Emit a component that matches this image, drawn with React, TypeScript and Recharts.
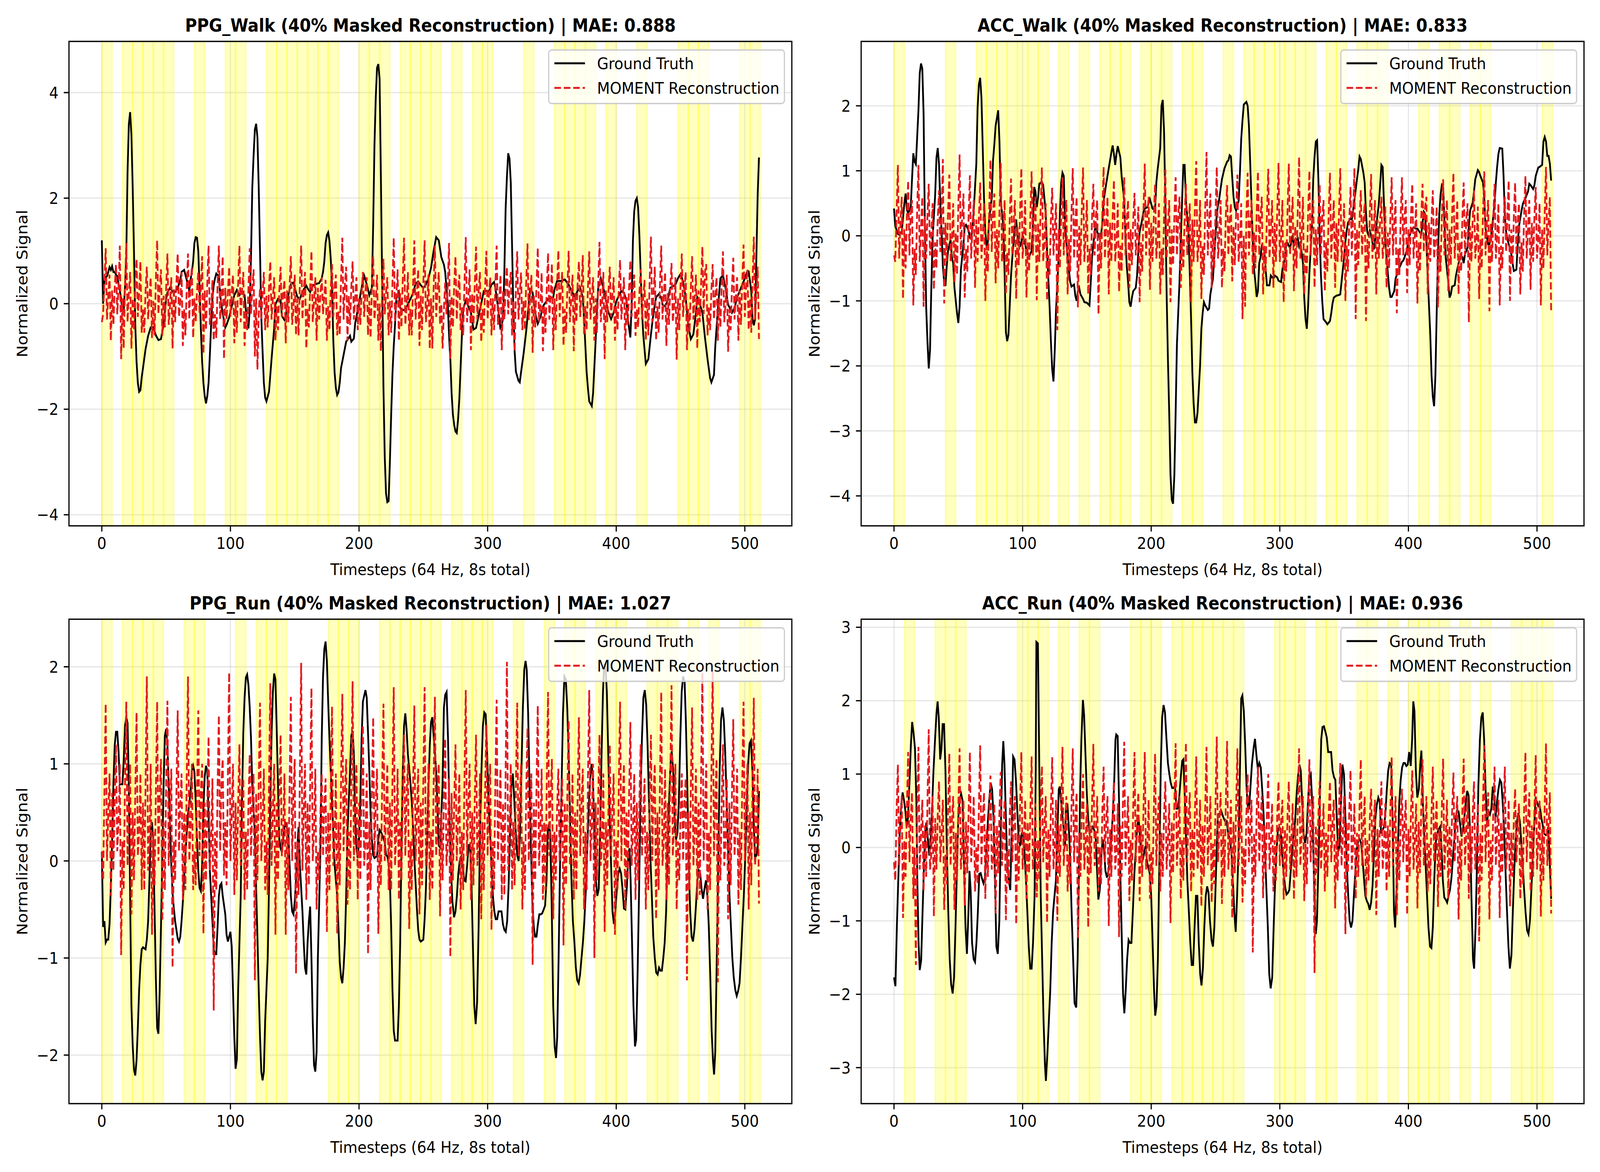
import React from "react";
import { CartesianGrid, Line, LineChart, ReferenceArea, XAxis, YAxis } from "recharts";

const FIG_W = 4500;
const FIG_H = 3000;
const FONT = "DejaVu Sans";
const FS = 41.7;
const TITLE_FS = 45.8;
const PLOT_W = 2033;
const PLOT_H = 1240;
const X_DOMAIN: [number, number] = [-25.55, 536.55];
const X_TICKS = [0, 100, 200, 300, 400, 500];
const PATCH_LEN = 8;
// reconstruction values are listed for every timestep 0..511
const RECON_T = Array.from({ length: 512 }, (_, i) => i);

// ---------- PPG_Walk ----------
const ppgWalkTruth: [number, number][] = [
  [0,1.2],[1,0.0],[2,0.43],[3,0.5],[4,0.52],[5,0.6],[6,0.69],[7,0.64],[8,0.71],[9,0.6],[10,0.6],[11,0.55],[12,0.52],[13,0.37],[14,0.25],[15,0.1],[16,-0.13],[17,-0.12],[18,0.3],[19,0.9],[20,2.5],[21,3.4],[22,3.63],[23,3.2],[24,2.2],[25,1.0],[26,-0.4],[27,-1.1],[28,-1.5],[29,-1.67],[30,-1.64],[31,-1.4],[32,-1.22],[34,-0.86],[36,-0.61],[38,-0.45],[40,-0.45],[42,-0.6],[44,-0.69],[46,-0.67],[48,-0.4],[50,0.09],[51,0.21],[53,0.3],[55,0.23],[57,0.22],[59,0.3],[61,0.45],[62,0.6],[64,0.64],[66,0.45],[68,0.25],[69,0.46],[70,0.6],[71,0.8],[72,1.15],[73,1.26],[74,1.25],[75,1.0],[76,0.3],[77,-0.47],[78,-1.1],[79,-1.5],[80,-1.75],[81,-1.89],[82,-1.75],[83,-1.5],[84,-0.97],[85,-0.4],[86,0.09],[87,0.35],[88,0.48],[89,0.57],[91,0.52],[92,0.16],[94,-0.19],[96,-0.45],[97,-0.4],[99,-0.26],[101,-0.05],[103,0.16],[105,0.26],[107,0.16],[109,0.23],[111,0.16],[112,-0.12],[113,-0.3],[114,-0.47],[115,-0.12],[116,0.9],[117,2.2],[118,2.8],[119,3.3],[120,3.41],[121,3.15],[122,2.2],[123,1.0],[124,-0.26],[125,-0.9],[126,-1.5],[127,-1.78],[128,-1.85],[130,-1.67],[132,-1.04],[134,-0.47],[135,-0.01],[137,0.09],[139,0.06],[140,-0.23],[142,-0.31],[143,-0.23],[145,0.16],[147,0.37],[149,0.4],[150,0.3],[152,0.13],[154,0.09],[155,0.16],[157,0.27],[159,0.34],[160,0.29],[162,0.22],[164,0.34],[166,0.37],[169,0.39],[171,0.48],[172,0.6],[173,0.8],[174,1.15],[175,1.3],[176,1.35],[177,1.19],[178,0.85],[179,0.3],[180,-0.7],[181,-1.3],[182,-1.6],[183,-1.73],[184,-1.68],[185,-1.5],[186,-1.22],[188,-0.97],[190,-0.72],[192,-0.65],[193,-0.61],[194,-0.72],[196,-0.66],[197,-0.37],[199,-0.12],[201,0.16],[203,0.43],[204,0.53],[206,0.37],[208,0.16],[210,0.3],[211,1.5],[212,3.0],[213,3.9],[214,4.47],[215,4.54],[216,4.26],[217,2.4],[218,0.4],[219,-1.6],[220,-2.9],[221,-3.6],[222,-3.76],[223,-3.74],[224,-3.0],[225,-2.1],[226,-1.32],[227,-0.8],[228,-0.4],[229,0.09],[231,0.21],[232,-0.08],[234,-0.12],[236,-0.12],[238,-0.01],[240,0.09],[242,0.2],[244,0.38],[246,0.42],[248,0.35],[250,0.3],[252,0.36],[254,0.48],[256,0.68],[258,1.0],[260,1.26],[262,1.2],[264,0.88],[266,0.74],[267,0.6],[268,0.3],[269,0.0],[270,-0.6],[271,-1.05],[272,-1.7],[273,-2.1],[274,-2.3],[275,-2.42],[276,-2.45],[277,-2.2],[278,-1.8],[279,-1.2],[280,-0.6],[281,-0.11],[283,0.06],[285,-0.05],[287,-0.17],[289,-0.49],[291,-0.46],[293,-0.23],[295,0.0],[297,0.24],[299,0.24],[301,0.23],[303,0.36],[305,0.41],[306,0.3],[308,-0.05],[310,-0.49],[312,-0.29],[313,0.6],[314,1.8],[315,2.4],[316,2.85],[317,2.75],[318,2.3],[319,1.1],[320,-0.1],[321,-0.9],[322,-1.29],[324,-1.46],[325,-1.49],[326,-1.3],[328,-0.94],[330,-0.52],[332,0.0],[333,0.27],[335,0.21],[337,-0.17],[339,-0.38],[341,-0.26],[343,-0.05],[345,0.02],[347,0.09],[349,0.11],[351,0.12],[352,0.27],[354,0.43],[357,0.43],[360,0.46],[363,0.36],[366,0.21],[368,0.12],[370,0.25],[372,0.3],[374,0.12],[375,-0.3],[376,-0.8],[377,-1.3],[378,-1.6],[379,-1.85],[381,-1.94],[382,-1.7],[383,-1.2],[384,-0.7],[385,-0.1],[386,0.3],[388,0.48],[390,0.3],[392,0.06],[394,-0.17],[396,-0.29],[398,-0.17],[400,0.04],[402,0.15],[404,0.24],[406,0.21],[408,0.06],[409,-0.29],[411,-0.64],[412,0.0],[413,1.2],[414,1.75],[415,1.95],[416,2.0],[417,1.83],[418,1.3],[419,0.59],[420,-0.1],[421,-0.58],[423,-1.14],[425,-1.05],[427,-0.58],[429,-0.17],[431,0.12],[433,0.18],[435,0.12],[436,-0.02],[438,-0.05],[440,0.06],[442,0.3],[444,0.33],[446,0.36],[448,0.48],[450,0.56],[452,0.42],[454,0.12],[456,-0.41],[458,-0.67],[460,-0.58],[462,-0.17],[463,0.12],[465,0.0],[467,-0.17],[469,-0.64],[471,-1.05],[473,-1.41],[474,-1.49],[476,-1.35],[477,-0.82],[479,-0.11],[481,0.48],[483,0.54],[485,0.3],[487,-0.02],[489,-0.11],[490,-0.17],[492,-0.08],[494,0.12],[496,0.24],[498,0.36],[500,0.48],[502,0.62],[503,0.61],[505,0.24],[506,-0.29],[507,-0.41],[508,-0.29],[509,0.9],[510,2.06],[511,2.77],
];
const ppgWalkRecon = [
  -0.35, -0.2, 0.4, 1.05, -0.3, 0.15, 0.55, -0.7,
  0.25, -0.4, 0.3, 0.75, -0.2, 0.3, 1.1, -1.05,
  0.1, -0.85, 0.35, 1.15, -0.35, 0.2, 0.6, -0.85,
  0.1, -0.5, 0.3, 0.85, -0.25, 0.2, 0.8, -0.55,
  -0.1, -0.55, 0.25, 0.7, -0.3, 0.15, 0.5, -0.65,
  0.05, -0.6, 0.45, 1.2, -0.2, 0.3, 0.65, -0.6,
  0.15, -0.45, 0.3, 0.95, -0.4, -0.05, 0.5, -0.85,
  0.3, -0.35, 0.4, 0.95, -0.25, 0.05, 0.6, -0.8,
  -0.1, -0.6, 0.3, 0.95, -0.3, 0.35, 0.7, -0.65,
  0.1, -0.35, 0.25, 0.6, -0.2, 0.3, 0.9, -0.95,
  0.25, -0.5, 0.4, 1.1, -0.4, -0.1, 0.45, -0.7,
  -0.2, -0.65, 0.35, 1.1, -0.3, 0.2, 0.9, -1.05,
  0.3, -0.3, 0.2, 0.7, -0.25, 0.2, 0.55, -0.75,
  0.05, -0.55, 0.4, 1.1, -0.35, 0.25, 0.6, -0.8,
  -0.15, -0.5, 0.3, 1.05, -0.2, 0.3, 0.65, -1.0,
  0.1, -1.25, -0.2, 0.3, -0.3, 0.2, 0.6, -0.5,
  0.15, -0.45, 0.3, 0.8, -0.3, 0.1, 0.5, -0.7,
  -0.05, -0.5, 0.25, 0.7, -0.25, 0.2, 0.45, -0.75,
  0.25, -0.35, 0.35, 0.9, -0.4, -0.1, 0.55, -0.6,
  0.1, -0.6, 0.4, 1.1, -0.3, 0.25, 0.6, -0.85,
  -0.1, -0.45, 0.3, 1.0, -0.35, 0.05, 0.5, -0.7,
  0.3, -0.3, 0.2, 0.5, -0.2, 0.15, 0.45, -0.7,
  -0.05, -0.5, 0.3, 0.75, -0.25, 0.3, 0.55, -0.6,
  -0.15, -0.6, 0.45, 1.25, -0.3, 0.35, 0.7, -0.7,
  0.15, -0.4, 0.3, 0.8, -0.3, 0.1, 0.5, -0.5,
  0.1, -0.4, 0.2, 0.6, -0.25, 0.25, 0.5, -0.6,
  0.05, -0.65, 0.3, 0.9, -0.3, 0.05, 0.55, -0.7,
  0.0, -0.9, 0.3, 0.85, -0.2, 0.2, 0.5, -0.6,
  0.05, -0.55, 0.4, 1.25, -0.35, 0.15, 0.65, -0.7,
  0.2, -0.45, 0.45, 1.25, -0.4, -0.05, 0.6, -0.6,
  -0.1, -0.6, 0.35, 1.2, -0.3, 0.2, 0.65, -0.8,
  0.15, -0.5, 0.4, 1.2, -0.35, -0.05, 0.55, -0.86,
  0.1, -0.85, 0.3, 1.1, -0.25, 0.25, 0.6, -0.4,
  0.0, -0.85, -0.1, 0.4, -0.2, 0.35, 1.15, -1.05,
  0.15, -0.45, 0.35, 0.9, -0.3, 0.25, 0.55, -0.5,
  -0.05, -0.6, 0.4, 1.26, -0.35, 0.1, 0.65, -0.88,
  0.2, -0.4, 0.35, 1.08, -0.3, 0.25, 0.6, -0.73,
  -0.1, -0.55, 0.3, 1.0, -0.3, 0.15, 0.5, -0.6,
  0.1, -0.5, 0.35, 1.1, -0.4, 0.0, 0.55, -0.88,
  0.25, -0.3, 0.3, 0.7, -0.2, 0.35, 0.6, -0.6,
  0.05, -0.91, 0.3, 0.99, -0.3, 0.2, 0.59, -0.5,
  0.05, -0.5, 0.4, 1.14, -0.31, 0.1, 0.55, -0.93,
  0.15, -0.45, 0.35, 1.06, -0.35, -0.05, 0.59, -0.9,
  -0.05, -0.55, 0.3, 0.96, -0.3, 0.15, 0.76, -0.88,
  0.1, -0.5, 0.35, 1.01, -0.25, 0.25, 0.6, -0.8,
  -0.1, -0.55, 0.3, 1.0, -0.35, 0.1, 0.55, -0.9,
  0.2, -0.35, 0.4, 0.8, -0.25, 0.25, 0.92, -0.6,
  -0.05, -0.5, 0.3, 0.99, -0.3, 0.1, 0.5, -0.7,
  0.1, -0.55, 0.4, 1.17, -0.35, -0.05, 0.6, -1.05,
  0.25, -0.35, 0.25, 0.7, -0.25, 0.15, 0.5, -0.7,
  -0.05, -0.5, 0.3, 0.83, -0.3, 0.1, 0.5, -0.88,
  0.15, -0.4, 0.3, 0.82, -0.25, 0.25, 0.55, -0.61,
  -0.1, -0.45, 0.2, 0.65, -0.3, 0.1, 0.45, -0.7,
  0.1, -0.6, 0.45, 1.27, -0.35, 0.2, 0.7, -0.7,
  -0.05, -0.55, 0.35, 1.1, -0.3, 0.15, 0.6, -0.8,
  0.2, -0.4, 0.3, 0.77, -0.35, -0.05, 0.5, -1.06,
  0.1, -0.5, 0.35, 0.95, -0.25, 0.25, 0.6, -0.88,
  -0.1, -0.55, 0.3, 0.9, -0.3, 0.1, 0.55, -0.85,
  0.25, -0.35, 0.4, 1.08, -0.2, 0.6, 0.75, -0.6,
  -0.05, -0.5, 0.25, 0.75, -0.3, 0.15, 0.5, -0.7,
  0.1, -0.45, 0.35, 0.99, -0.35, 0.0, 0.55, -0.91,
  -0.1, -0.5, 0.3, 0.87, -0.3, 0.15, 0.5, -0.7,
  0.25, -0.4, 0.4, 1.12, -0.25, 0.3, 0.65, -0.5,
  0.1, -0.55, 0.45, 1.27, -0.3, 0.2, 0.7, -0.67,
];
const ppgWalkMasked = [0, 16, 24, 32, 40, 48, 72, 96, 104, 128, 136, 144, 152, 160, 168, 176, 200, 208, 216, 232, 240, 248, 256, 272, 288, 296, 328, 352, 360, 368, 376, 392, 416, 448, 456, 464, 496, 504];

// ---------- ACC_Walk ----------
const accWalkTruth: [number, number][] = [
  [0,0.42],[1,0.15],[3,0.03],[4,0.02],[6,0.06],[8,0.49],[9,0.65],[10,0.4],[11,0.35],[13,0.44],[14,0.87],[15,1.27],[16,1.14],[17,1.1],[19,1.93],[20,2.5],[21,2.65],[22,2.57],[23,1.88],[24,0.15],[25,-1.09],[26,-1.62],[27,-2.04],[28,-1.76],[29,-0.8],[30,-0.04],[32,0.63],[33,1.2],[34,1.35],[35,1.1],[36,0.5],[37,0.06],[38,-0.47],[39,-0.71],[40,-0.77],[41,-0.47],[42,-0.23],[44,-0.06],[45,-0.33],[46,-0.42],[47,-0.8],[49,-1.19],[50,-1.34],[51,-1.09],[52,-0.52],[54,-0.13],[55,0.15],[56,0.17],[58,0.08],[59,-0.03],[60,-0.04],[61,0.13],[62,0.39],[64,1.11],[65,1.97],[66,2.33],[67,2.43],[68,2.12],[69,1.35],[70,0.58],[71,0.06],[72,-0.18],[73,-0.09],[74,0.27],[76,0.58],[77,1.16],[78,1.4],[79,1.69],[81,1.93],[82,1.45],[83,0.54],[85,0.15],[86,-0.57],[87,-1.48],[88,-1.62],[89,-1.52],[91,-0.61],[92,-0.33],[94,0.15],[95,0.25],[96,0.01],[98,-0.17],[99,-0.09],[100,0.01],[102,-0.13],[103,-0.23],[105,-0.33],[107,-0.23],[108,0.15],[109,0.75],[110,0.68],[111,0.44],[112,0.58],[113,0.8],[115,0.83],[116,0.78],[118,0.35],[119,-0.23],[121,-1.09],[122,-1.62],[123,-2.05],[124,-2.24],[125,-1.76],[126,-1.14],[128,-0.33],[129,0.35],[130,0.82],[131,0.97],[132,0.92],[133,0.15],[135,-0.33],[136,-0.52],[137,-0.71],[138,-0.78],[140,-0.75],[141,-0.92],[142,-1.0],[143,-0.85],[144,-0.8],[145,-0.9],[147,-0.97],[148,-1.02],[150,-1.03],[152,-1.07],[153,-0.71],[154,-0.33],[156,0.06],[157,0.2],[158,0.06],[160,-0.04],[161,0.01],[162,0.2],[163,0.54],[165,0.8],[166,0.92],[167,1.04],[168,1.16],[169,1.28],[170,1.39],[171,1.26],[172,1.09],[173,1.26],[174,1.38],[175,1.29],[176,1.21],[177,0.92],[179,0.54],[180,-0.04],[181,-0.47],[182,-0.71],[183,-1.02],[184,-1.09],[185,-0.95],[186,-0.85],[188,-0.8],[189,-0.61],[190,-0.23],[191,0.06],[193,0.25],[194,0.37],[195,0.42],[197,0.44],[199,0.56],[200,0.49],[201,0.42],[203,0.39],[204,0.82],[205,1.02],[207,1.35],[208,2.0],[209,2.09],[210,1.6],[211,0.5],[212,-0.9],[213,-1.9],[214,-2.72],[215,-3.68],[216,-4.06],[217,-4.12],[218,-3.68],[219,-2.72],[220,-1.67],[222,-0.71],[223,-0.09],[224,0.54],[225,1.09],[226,1.09],[227,0.54],[229,0.06],[230,-0.57],[231,-1.28],[232,-2.1],[233,-2.58],[234,-2.87],[235,-2.87],[236,-2.72],[238,-2.0],[239,-1.43],[240,-1.19],[241,-1.02],[242,-1.07],[244,-1.14],[245,-1.12],[246,-0.9],[248,-0.66],[249,-0.33],[250,0.01],[251,0.35],[253,0.58],[254,0.73],[255,0.87],[257,1.04],[258,1.09],[259,1.14],[260,1.16],[261,1.24],[262,1.22],[263,0.9],[264,0.6],[265,0.44],[266,0.39],[268,0.54],[269,0.97],[270,1.49],[271,1.78],[272,2.02],[274,2.06],[275,2.0],[276,1.69],[277,1.11],[278,0.5],[279,-0.1],[280,-0.52],[281,-0.71],[282,-0.94],[283,-0.85],[284,-0.42],[285,-0.33],[286,-0.16],[288,-0.23],[289,-0.52],[290,-0.76],[292,-0.76],[293,-0.61],[295,-0.66],[296,-0.61],[298,-0.64],[299,-0.69],[301,-0.71],[302,-0.52],[304,-0.33],[305,-0.11],[306,-0.11],[308,-0.19],[309,-0.09],[310,0.01],[311,-0.16],[312,-0.09],[314,-0.04],[315,-0.16],[316,-0.11],[318,-0.42],[319,-0.95],[320,-1.28],[321,-1.43],[322,-1.09],[323,-0.57],[325,0.15],[326,0.87],[327,1.21],[328,1.45],[329,1.47],[330,0.87],[331,0.01],[332,-0.61],[333,-1.0],[334,-1.28],[336,-1.33],[337,-1.36],[339,-1.31],[340,-1.19],[341,-1.04],[342,-0.95],[344,-0.92],[346,-0.91],[347,-0.9],[348,-0.71],[350,-0.33],[351,-0.09],[352,0.08],[353,0.2],[355,0.27],[356,0.25],[357,0.39],[358,0.54],[360,0.87],[361,1.02],[362,1.22],[363,1.18],[365,0.97],[366,0.82],[367,0.35],[368,0.06],[369,0.01],[370,0.08],[371,0.01],[373,-0.21],[374,-0.09],[375,0.15],[377,0.49],[378,0.78],[379,1.09],[380,1.06],[381,0.49],[382,-0.09],[384,-0.57],[385,-0.8],[386,-0.94],[387,-0.94],[389,-0.85],[390,-0.66],[392,-0.54],[393,-0.49],[395,-0.4],[396,-0.38],[397,-0.33],[399,-0.21],[400,-0.04],[402,0.06],[403,0.11],[404,0.13],[406,0.11],[407,0.11],[409,0.05],[410,0.03],[412,0.37],[413,0.34],[414,-0.09],[415,-0.61],[417,-1.52],[418,-2.15],[419,-2.48],[420,-2.62],[421,-2.15],[422,-1.19],[423,-0.28],[424,0.34],[425,0.63],[426,0.78],[427,0.75],[428,0.25],[429,-0.33],[431,-0.71],[432,-0.95],[433,-0.9],[434,-0.78],[436,-0.76],[437,-0.61],[439,-0.42],[440,-0.35],[442,-0.33],[443,-0.42],[444,-0.28],[446,-0.18],[447,0.15],[448,0.39],[450,0.51],[451,0.68],[452,0.87],[454,1.01],[455,0.98],[456,0.92],[458,0.82],[459,0.58],[460,0.11],[462,-0.13],[463,-0.13],[464,-0.04],[465,0.11],[467,0.49],[468,0.82],[469,1.06],[470,1.26],[471,1.35],[473,1.34],[474,0.92],[475,0.3],[476,0.06],[477,-0.04],[478,-0.13],[480,-0.28],[481,-0.42],[482,-0.54],[484,-0.52],[485,-0.13],[486,0.15],[488,0.39],[489,0.49],[490,0.54],[491,0.58],[493,0.68],[494,0.8],[495,0.78],[497,0.72],[498,0.78],[499,0.92],[501,1.05],[502,1.06],[504,1.09],[505,1.45],[506,1.52],[507,1.45],[508,1.23],[509,1.23],[510,1.11],[511,0.85],
];
const accWalkRecon = [
  -0.3, -0.4, 0.35, 1.09, -0.35, 0.2, 0.6, -0.97,
  0.1, -0.5, 0.3, 0.85, -0.3, 0.35, 0.55, -1.07,
  -0.2, -0.6, 0.4, 1.09, -0.4, 0.1, 0.6, -1.09,
  0.3, -0.35, 0.3, 0.8, -0.3, 0.0, 0.5, -0.83,
  -0.1, -0.5, 0.25, 0.7, -0.25, 0.3, 1.18, -1.04,
  0.2, -0.4, 0.35, 0.94, -0.4, -0.1, 0.5, -0.71,
  0.05, -0.6, 0.45, 1.25, -0.3, 0.3, 0.65, -0.95,
  -0.2, -0.55, 0.3, 0.93, -0.35, 0.15, 0.55, -0.8,
  0.25, -0.4, 0.3, 0.82, -0.35, 0.0, 0.5, -1.0,
  -0.15, -0.55, 0.4, 1.17, -0.25, 0.35, 0.65, -0.73,
  0.1, -0.5, 0.4, 1.12, -0.4, -0.05, 0.55, -0.9,
  -0.25, -0.6, 0.3, 0.88, -0.3, 0.2, 0.55, -0.97,
  0.15, -0.45, 0.35, 1.04, -0.35, 0.0, 0.55, -0.95,
  -0.1, -0.55, 0.3, 0.99, -0.3, 0.3, 0.6, -0.99,
  0.2, -0.4, 0.4, 1.05, -0.4, -0.1, 0.5, -1.0,
  -0.3, -0.6, 0.25, 0.74, -0.3, 0.1, 0.5, -1.45,
  0.1, -0.5, 0.3, 0.9, -0.3, 0.25, 0.55, -0.9,
  -0.05, -0.55, 0.35, 1.04, -0.35, 0.2, 0.6, -1.1,
  0.15, -0.45, 0.4, 1.05, -0.4, 0.0, 0.55, -0.9,
  -0.2, -0.6, 0.3, 0.8, -0.3, 0.3, 0.55, -1.21,
  0.05, -0.5, 0.35, 1.06, -0.35, 0.15, 0.6, -0.9,
  0.2, -0.4, 0.3, 0.86, -0.4, -0.1, 0.5, -0.86,
  -0.15, -0.55, 0.3, 0.9, -0.3, 0.25, 0.55, -0.8,
  0.1, -0.45, 0.25, 0.66, -0.3, 0.0, 0.45, -1.02,
  -0.1, -0.55, 0.4, 1.11, -0.3, 0.3, 0.6, -0.83,
  0.2, -0.4, 0.3, 0.8, -0.35, -0.05, 0.5, -0.9,
  -0.2, -0.6, 0.35, 1.02, -0.35, 0.15, 0.55, -1.02,
  0.1, -0.45, 0.3, 0.9, -0.3, 0.3, 0.6, -0.8,
  -0.05, -0.5, 0.3, 0.8, -0.3, 0.1, 0.5, -1.02,
  0.25, -0.4, 0.45, 1.15, -0.4, -0.1, 0.55, -0.97,
  -0.15, -0.6, 0.45, 1.29, -0.3, 0.2, 0.65, -0.8,
  0.1, -0.5, 0.35, 1.06, -0.35, 0.0, 0.55, -0.8,
  -0.2, -0.55, 0.3, 0.78, -0.3, 0.25, 0.5, -0.7,
  0.15, -0.45, 0.35, 0.94, -0.4, -0.1, 0.5, -1.28,
  0.0, -1.09, 0.3, 0.97, -0.3, 0.2, 0.55, -0.6,
  0.05, -0.5, 0.35, 0.99, -0.3, 0.3, 0.6, -0.9,
  -0.15, -0.55, 0.35, 1.03, -0.35, 0.1, 0.55, -0.8,
  0.2, -0.4, 0.4, 1.12, -0.4, -0.05, 0.55, -1.02,
  -0.1, -0.55, 0.4, 1.11, -0.3, 0.25, 0.6, -0.85,
  0.15, -0.5, 0.45, 1.21, -0.35, 0.0, 0.6, -0.9,
  -0.2, -0.6, 0.35, 1.0, -0.3, 0.2, 0.55, -0.8,
  0.1, -0.45, 0.3, 0.8, -0.3, 0.3, 0.55, -0.85,
  -0.1, -0.55, 0.35, 0.97, -0.35, 0.15, 0.55, -0.8,
  0.2, -0.4, 0.35, 1.04, -0.4, -0.05, 0.5, -1.0,
  -0.15, -0.55, 0.25, 0.75, -0.3, 0.3, 1.04, -1.28,
  0.1, -0.45, 0.25, 0.7, -0.3, 0.25, 0.5, -1.31,
  -0.05, -0.5, 0.35, 0.95, -0.35, 0.1, 0.55, -0.9,
  0.25, -0.35, 0.25, 0.6, -0.35, -0.1, 0.45, -0.8,
  0.05, -0.5, 0.3, 0.9, -0.3, 0.2, 0.55, -1.19,
  -0.2, -0.6, 0.3, 0.9, -0.3, 0.3, 0.55, -0.88,
  0.1, -0.45, 0.3, 0.8, -0.35, 0.0, 0.5, -1.04,
  -0.1, -0.55, 0.3, 0.8, -0.25, 0.45, 0.6, -0.9,
  0.2, -0.4, 0.25, 0.7, -0.35, -0.05, 0.45, -1.1,
  -0.15, -0.55, 0.3, 0.87, -0.3, 0.2, 0.55, -0.85,
  0.1, -0.45, 0.35, 0.97, -0.35, 0.05, 0.55, -0.9,
  -0.1, -0.55, 0.3, 0.82, -0.3, 0.25, 0.5, -1.33,
  0.15, -0.4, 0.25, 0.7, -0.35, -0.1, 0.45, -0.97,
  -0.05, -0.5, 0.35, 0.99, -0.3, 0.2, 0.55, -1.16,
  0.2, -0.4, 0.3, 0.8, -0.35, 0.0, 0.5, -1.07,
  -0.15, -0.5, 0.2, 0.6, -0.25, 0.3, 0.85, -1.0,
  0.1, -0.45, 0.3, 0.82, -0.3, 0.2, 0.5, -0.9,
  -0.1, -0.55, 0.35, 0.92, -0.35, 0.1, 0.55, -0.83,
  0.2, -0.4, 0.3, 0.75, -0.35, -0.05, 0.5, -1.07,
  0.1, -0.5, 0.35, 1.06, -0.3, 0.2, 0.6, -1.16,
];
const accWalkMasked = [0, 40, 64, 72, 80, 88, 96, 104, 112, 128, 144, 160, 168, 176, 192, 200, 208, 224, 232, 256, 272, 280, 288, 296, 304, 312, 320, 336, 344, 360, 368, 376, 408, 424, 432, 448, 456, 504];

// ---------- PPG_Run ----------
const ppgRunTruth: [number, number][] = [
  [0,0.09],[1,-0.68],[2,-0.62],[3,-0.84],[4,-0.81],[5,-0.81],[6,-0.65],[7,-0.26],[8,0.2],[9,0.8],[10,1.19],[11,1.33],[12,1.33],[13,1.13],[14,0.79],[16,0.79],[17,1.03],[18,1.39],[19,1.48],[20,1.42],[21,0.77],[22,-0.36],[23,-1.49],[24,-1.9],[25,-2.15],[26,-2.21],[27,-2.05],[28,-1.72],[29,-1.33],[30,-1.07],[31,-0.91],[32,-0.89],[34,-0.91],[35,-0.81],[36,-0.62],[37,-0.2],[38,0.29],[39,0.4],[40,0.2],[41,-0.5],[42,-1.2],[43,-1.72],[44,-1.78],[45,-1.33],[46,-0.68],[47,0.03],[48,0.77],[49,1.29],[50,1.36],[51,1.19],[52,0.8],[53,0.38],[54,-0.04],[55,-0.33],[56,-0.49],[57,-0.62],[59,-0.8],[60,-0.83],[61,-0.78],[62,-0.62],[63,-0.42],[64,-0.16],[65,0.06],[66,0.29],[67,0.48],[69,0.71],[70,0.93],[71,0.98],[72,0.92],[73,0.61],[74,0.22],[75,-0.1],[76,-0.28],[77,-0.31],[78,-0.04],[79,0.55],[80,0.87],[81,0.98],[82,0.93],[83,0.48],[84,-0.1],[86,-0.62],[87,-0.91],[88,-0.96],[89,-0.96],[90,-0.68],[91,-0.36],[92,-0.25],[93,-0.23],[94,-0.36],[96,-0.55],[97,-0.76],[98,-0.83],[99,-0.78],[100,-0.73],[101,-0.88],[102,-1.33],[103,-1.81],[104,-2.14],[105,-2.04],[106,-1.33],[108,-0.36],[109,0.61],[110,1.32],[111,1.68],[112,1.89],[113,1.92],[114,1.81],[115,1.58],[116,1.26],[117,0.77],[119,0.29],[120,-0.29],[121,-0.78],[122,-1.33],[123,-1.81],[124,-2.17],[125,-2.26],[126,-2.17],[127,-1.65],[129,-1.0],[130,-0.26],[131,0.61],[132,1.32],[133,1.74],[134,1.93],[135,1.87],[136,1.35],[137,0.77],[138,0.22],[139,0.13],[140,0.09],[141,0.22],[142,0.35],[143,0.38],[145,0.29],[146,-0.04],[147,-0.36],[148,-0.52],[149,-0.55],[150,-0.42],[151,-0.2],[152,0.13],[153,0.35],[154,-0.04],[156,-0.52],[157,-0.84],[158,-1.1],[159,-1.17],[160,-0.84],[161,-0.62],[162,-0.47],[163,-1.0],[164,-1.65],[165,-2.1],[166,-2.17],[167,-1.97],[168,-1.0],[170,0.13],[171,1.26],[172,1.9],[173,2.18],[174,2.26],[175,2.06],[176,1.64],[177,1.26],[178,0.93],[179,0.61],[180,0.29],[181,-0.04],[183,-0.36],[184,-0.68],[185,-1.04],[186,-1.2],[187,-1.26],[188,-1.1],[189,-0.84],[190,-0.36],[191,0.29],[193,0.93],[194,1.29],[195,1.34],[196,1.1],[197,0.45],[198,0.13],[199,0.03],[200,0.22],[201,0.61],[202,1.26],[203,1.64],[205,1.76],[206,1.68],[207,1.32],[208,0.93],[209,0.48],[210,0.22],[211,0.06],[212,0.03],[214,0.05],[215,0.22],[216,0.32],[217,0.3],[218,0.27],[220,0.19],[221,0.06],[222,0.05],[223,-0.04],[224,-0.2],[225,-0.68],[226,-1.33],[227,-1.75],[228,-1.85],[230,-1.85],[231,-1.49],[232,-0.84],[233,0.13],[234,0.93],[235,1.39],[236,1.52],[237,1.35],[238,1.1],[240,0.8],[241,0.61],[242,0.35],[243,0.03],[244,-0.23],[245,-0.49],[246,-0.71],[247,-0.81],[248,-0.83],[250,-0.81],[251,-0.6],[252,-0.29],[253,0.22],[254,0.77],[255,1.19],[256,1.43],[257,1.48],[258,1.29],[260,0.93],[261,0.55],[262,0.16],[263,0.14],
  [264.9,0.77],[266,1.58],[267,1.71],[268.1,1.74],[269.2,1.26],[270.3,0.45],[271.4,-0.04],[272.6,-0.42],[273.9,-0.58],[275,-0.52],[276.1,-0.36],[277.2,-0.13],[278.3,0.0],[279.4,0.05],[280.5,-0.04],[281.8,-0.2],[282.9,-0.21],[284.1,-0.04],[285.2,0.16],[286.3,0.17],[287.4,-0.2],[288.5,-0.84],[289.6,-1.49],[290.7,-1.68],[291.8,-1.46],[293,-0.68],[294.1,0.29],[295.2,0.93],[296.3,1.39],[297.4,1.53],[298.5,1.51],[299.6,1.1],[300.7,0.61],[301.9,0.29],[303,-0.04],[304.1,-0.36],[305.2,-0.52],[306.3,-0.6],[307.4,-0.6],[308.5,-0.52],[309.6,-0.52],[310.8,-0.52],[311.9,-0.65],[313,-0.71],[314.1,-0.73],[315.2,-0.62],[316.3,-0.26],[317.4,0.29],[318.5,0.77],[319.6,0.9],[320.8,0.61],[321.9,0.29],[323,0.06],[324.1,0.0],[325.2,0.29],[326.3,0.93],[327.4,1.58],[328.5,1.97],[329.5,2.06],[330.4,1.97],[331.5,1.52],[332.6,0.77],[333.7,0.13],[334.8,-0.42],[335.9,-0.68],[336.9,-0.78],[338,-0.78],[339.1,-0.65],[340.2,-0.55],[341.3,-0.55],[342.4,-0.54],[343.6,-0.5],[344.7,-0.46],[345.8,-0.2],[346.7,0.29],[347.6,0.38],[348.7,0.29],[349.9,-0.52],[351,-1.49],[352.1,-1.91],[353.2,-2.03],[354.1,-1.81],[355.2,-1.0],[356.3,-0.04],[357.5,0.77],[358.6,1.52],[359.7,1.9],[360.8,1.87],[361.9,1.58],[363,1.1],[364.1,0.45],[365.2,-0.2],[366.3,-0.62],[367.5,-0.84],[368.6,-1.1],[369.7,-1.23],[370.8,-1.26],[371.9,-1.17],[373,-1.0],[374.1,-0.84],[375.2,-0.62],[376.4,-0.29],[377.5,0.13],[378.6,0.55],[379.7,0.84],[380.8,1.0],[381.9,0.87],[383,0.29],[384.2,-0.2],[385.3,-0.36],[386.4,-0.29],[387.5,0.29],[388.6,1.1],[389.7,1.74],[390.6,2.02],[391.6,2.03],[392.7,1.74],[393.8,1.1],[394.9,0.45],[396,-0.04],[397.1,-0.52],[398.2,-0.65],[399.3,-0.52],[400.5,-0.29],[401.6,-0.13],[402.7,-0.08],[403.8,-0.13],[404.9,-0.29],[406,-0.49],[407.1,-0.5],[408.3,-0.26],[409.4,0.06],[410.3,0.13],[411.2,-0.2],[412.3,-0.84],[413.4,-1.49],[414.6,-1.91],[415.5,-1.84],[416.6,-1.17],[417.7,-0.36],[418.8,0.61],[420,1.26],[421.1,1.68],[422.2,1.76],[423.3,1.61],[424.4,1.19],[425.5,0.61],[426.6,0.03],[427.7,-0.36],[428.8,-0.78],[430,-1.0],[431.1,-1.15],[432.2,-1.17],[433.3,-1.1],[434.4,-1.13],[435.5,-1.13],[436.6,-1.0],[437.7,-0.84],[438.8,-0.52],[440,0.13],[441.1,0.61],[442.2,1.0],[443.1,1.13],[444.3,0.93],[445.4,0.45],[446.5,0.22],[447.6,0.29],[448.7,0.61],[449.8,1.26],[450.9,1.74],[452,1.9],[453.2,1.84],[454.2,1.42],[455.3,0.77],[456.4,-0.04],[457.5,-0.52],[458.6,-0.78],[459.7,-0.83],[460.8,-0.71],[462,-0.46],[463.1,-0.2],[464.2,-0.1],[465.3,-0.13],[466.4,-0.29],[467.5,-0.39],[468.6,-0.29],[469.8,-0.2],[470.9,-0.36],[472,-0.68],[473.1,-1.17],[474.2,-1.75],[475.3,-2.07],[476.1,-2.2],[477,-1.97],[478.2,-1.0],[479.3,-0.04],[480.4,0.93],[481.5,1.45],[482.6,1.58],[483.7,1.45],[484.8,1.1],[485.9,0.61],[487,0.13],[488.1,-0.36],[489.2,-0.68],[490.3,-1.0],[491.4,-1.2],[492.6,-1.33],[493.7,-1.39],[494.8,-1.34],[495.9,-1.26],[497,-1.0],[498.1,-0.68],[499.2,-0.36],[500.4,0.06],[501.5,0.55],[502.6,1.0],[503.7,1.21],[504.8,1.24],[505.9,0.93],[506.8,0.45],[507.9,0.03],[509,0.06],[510,0.13],[511,0.72],
];
const ppgRunRecon = [
  0.1, -0.2, 0.7, 1.62, 0.0, 0.5, 0.9, -0.36,
  0.7, -0.1, 0.6, 1.2, 0.1, 0.4, 1.0, -0.97,
  0.2, -0.3, 0.8, 1.64, -0.05, 0.6, 1.0, -0.55,
  0.5, -0.2, 0.7, 1.53, 0.05, 0.3, 0.9, -0.3,
  0.6, -0.3, 0.8, 1.9, -0.1, 0.2, 1.0, -0.76,
  0.3, -0.25, 0.7, 1.64, 0.0, 0.7, 1.05, -0.62,
  0.4, -0.3, 0.8, 1.65, -0.05, 0.5, 0.95, -1.1,
  0.2, -0.2, 0.7, 1.55, 0.1, 0.6, 0.9, -0.4,
  0.5, -0.3, 0.85, 1.9, 0.0, 0.3, 1.0, -0.3,
  0.1, -0.25, 0.7, 1.55, 0.05, 0.7, 1.0, -0.75,
  0.6, -0.2, 0.6, 1.28, -0.1, 0.2, 0.85, -1.54,
  0.3, -0.3, 0.75, 1.5, 0.1, 0.8, 1.05, -0.15,
  0.4, -0.25, 0.85, 1.94, 0.0, 0.5, 1.0, -0.35,
  0.6, -0.2, 0.6, 1.2, -0.05, 0.2, 0.85, -0.4,
  0.3, -0.3, 0.6, 1.1, 0.05, 0.6, 0.9, -1.23,
  0.7, -0.2, 0.8, 1.63, 0.0, 0.4, 0.95, -0.3,
  0.2, -0.35, 0.85, 1.83, -0.05, 0.5, 1.0, -0.76,
  0.6, -0.2, 0.65, 1.3, 0.05, 0.3, 0.9, -0.76,
  0.4, -0.3, 0.8, 1.69, 0.0, 0.7, 1.05, -1.16,
  0.2, -0.35, 0.9, 2.04, -0.1, 0.5, 1.0, -0.4,
  0.6, -0.25, 0.8, 1.78, 0.0, 0.3, 0.95, -0.5,
  0.1, -0.2, 0.5, 0.9, 0.05, 0.6, 0.85, -0.73,
  0.5, -0.3, 0.75, 1.59, -0.05, 0.2, 0.9, -0.75,
  0.4, -0.25, 0.8, 1.72, 0.1, 0.7, 1.05, -0.45,
  0.3, -0.3, 0.85, 1.85, 0.0, 0.5, 1.0, -0.4,
  0.6, -0.2, 0.7, 1.4, -0.05, 0.2, 0.9, -0.96,
  0.4, -0.3, 0.7, 1.48, 0.05, 0.6, 0.95, -0.75,
  0.2, -0.25, 0.8, 1.62, 0.0, 0.5, 1.0, -0.3,
  0.6, -0.3, 0.85, 1.79, -0.05, 0.3, 0.95, -0.4,
  0.4, -0.2, 0.65, 1.3, 0.05, 0.7, 1.0, -0.7,
  0.2, -0.3, 0.75, 1.6, 0.0, 0.5, 0.95, -0.55,
  0.6, -0.25, 0.85, 1.79, -0.05, 0.3, 1.0, -0.4,
  0.3, -0.3, 0.8, 1.69, 0.05, 0.6, 1.0, -0.57,
  0.5, -0.2, 0.65, 1.26, -0.05, 0.2, 0.85, -0.99,
  0.7, -0.2, 0.6, 1.2, 0.0, 0.4, 0.9, -0.5,
  0.3, -0.3, 0.85, 1.76, 0.05, 0.6, 1.0, -0.4,
  0.5, -0.25, 0.65, 1.3, -0.05, 0.2, 0.9, -0.6,
  0.4, -0.3, 0.7, 1.4, 0.05, 0.7, 1.0, -0.71,
  0.2, -0.3, 0.8, 1.66, 0.0, 0.5, 0.95, -0.4,
  0.6, -0.35, 0.9, 2.05, -0.1, 0.3, 1.0, -0.3,
  0.4, -0.25, 0.8, 1.63, 0.05, 0.6, 1.0, -0.5,
  0.2, -0.3, 0.7, 1.37, 0.0, 0.5, 0.9, -1.07,
  0.6, -0.2, 0.75, 1.6, -0.05, 0.3, 0.95, -0.4,
  0.4, -0.3, 0.85, 1.74, 0.05, 0.7, 1.05, -0.6,
  0.3, -0.2, 0.55, 0.95, 0.0, 0.5, 0.85, -0.87,
  0.6, -0.25, 0.7, 1.45, -0.05, 0.2, 0.9, -0.4,
  0.5, -0.3, 0.7, 1.48, 0.05, 0.6, 0.95, -0.5,
  0.3, -0.3, 0.85, 1.76, 0.0, 0.4, 1.0, -1.0,
  0.6, -0.2, 0.65, 1.3, -0.05, 0.2, 0.9, -0.73,
  0.4, -0.25, 0.6, 1.2, 0.05, 0.5, 0.9, -0.76,
  0.2, -0.3, 0.8, 1.64, 0.0, 0.6, 1.0, -0.5,
  0.5, -0.2, 0.7, 1.43, -0.05, 0.3, 0.9, -0.4,
  0.6, -0.2, 0.6, 1.2, 0.05, 0.4, 0.85, -0.5,
  0.3, -0.3, 0.65, 1.3, 0.0, 0.7, 1.0, -0.6,
  0.5, -0.3, 0.85, 1.74, -0.05, 0.2, 0.95, -0.4,
  0.6, -0.25, 0.85, 1.81, 0.05, 0.4, 1.0, -0.5,
  0.2, -0.2, 0.5, 0.9, 0.0, 0.6, 0.85, -1.23,
  0.5, -0.3, 0.75, 1.58, -0.05, 0.3, 0.95, -0.4,
  0.6, -0.35, 0.9, 1.94, 0.0, 0.5, 1.0, -0.5,
  0.3, -0.3, 0.9, 1.95, 0.05, 0.6, 1.05, -1.25,
  0.4, -0.2, 0.6, 1.2, -0.05, 0.2, 0.85, -0.6,
  0.6, -0.25, 0.7, 1.46, 0.05, 0.4, 0.95, -0.45,
  0.3, -0.3, 0.8, 1.64, 0.0, 0.6, 1.0, -0.5,
  0.5, -0.25, 0.8, 1.68, -0.05, 0.3, 0.95, -0.44,
];
const ppgRunMasked = [0, 16, 24, 32, 40, 64, 72, 104, 120, 128, 136, 176, 184, 192, 216, 224, 232, 240, 248, 256, 272, 280, 288, 296, 320, 344, 360, 368, 384, 392, 400, 424, 432, 440, 456, 472, 496, 504];

// ---------- ACC_Run ----------
const accRunTruth: [number, number][] = [
  [0,-1.77],[1.1,-1.89],[2.2,-1.09],[3.3,-0.45],[4.4,0.19],[5.6,0.58],[6.7,0.75],[7.8,0.64],[8.9,0.49],[9.8,0.28],[10.9,0.41],[12,0.88],[13.1,1.39],[14.1,1.71],[15.2,1.56],[16.3,1.35],[17.4,0.62],[18.1,-0.45],[19.1,-1.3],[20,-1.67],[21.1,-1.54],[22.2,-0.88],[23.3,-0.24],[24.4,0.24],[25.2,0.34],[26.3,0.11],[27.4,-0.11],[28.5,0.11],[29.6,0.53],[30.7,1.05],[31.9,1.47],[33,1.82],[33.9,1.99],[34.8,1.77],[35.9,1.2],[36.9,1.35],[37.8,1.68],[38.9,1.68],[40,1.05],[41.1,-0.02],[42.2,-0.88],[43.3,-1.52],[44.4,-1.86],[45.6,-1.99],[46.7,-1.77],[47.8,-1.09],[48.9,-0.32],[50,0.41],[51.1,0.66],[52.2,0.73],[53.3,0.64],[54.4,-0.24],[55.6,-1.09],[56.7,-1.45],[57.8,-0.92],[58.7,-0.32],[59.6,-0.58],[60.7,-1.3],[61.9,-1.52],[63,-1.56],[64.1,-1.3],[65.2,-0.88],[66.3,-0.36],[67.4,-0.35],[68.5,-0.43],[69.6,-0.49],[70.7,-0.41],[71.9,0.02],[73,0.36],[74.1,0.66],[75.2,0.88],[76.3,0.79],[77.4,0.41],[78.5,-0.45],[79.6,-1.35],[80.7,-1.45],[81.9,-1.0],[83,0.19],[84.1,1.13],[85,1.45],[85.9,1.13],[87,0.41],[88.1,-0.24],[89.3,-0.45],[90.4,-0.58],[91.5,0.19],[92.6,1.24],[93.7,1.2],[94.8,0.92],[95.9,0.49],[97,0.11],[98.1,0.02],[99.3,0.19],[100.4,0.19],[101.5,-0.06],[102.6,-0.45],[103.7,-0.88],[104.8,-1.35],[105.9,-1.65],[107,-1.65],[108.1,-1.3],[109.3,-0.66],[110.2,1.05],[110.7,2.8],[111.9,2.78],[113,1.05],[114.1,-0.66],[115.2,-1.52],[116.3,-2.37],[117.4,-2.97],[118.1,-3.18],[119.3,-2.8],[120.4,-2.37],[121.5,-1.94],[122.6,-1.3],[123.7,-0.88],[124.8,-0.66],[125.9,-0.45],[127,0.19],[128.1,0.79],[128.9,0.83],[130,0.62],[131.1,0.41],[132.2,0.19],[133,0.02],[133.7,0.53],[134.8,0.6],[135.9,0.28],[137,-0.15],[138.1,-0.88],[139.3,-1.52],[140.4,-2.12],[141.7,-2.18],[142.8,-1.52],[143.9,-0.24],[144.8,0.83],[145.7,1.47],[146.9,2.01],[147.8,1.81],[148.9,1.26],[150,0.71],[151.1,0.36],[152.2,0.19],[153.3,0.24],[154.4,0.28],[155.6,0.24],[156.7,0.19],[157.8,-0.28],[158.9,-0.71],[160,-0.58],[161.1,-0.15],[162.2,0.11],[163.3,-0.02],[164.4,-0.32],[165.6,-0.41],[166.7,-0.32],[167.8,-0.15],[168.9,0.11],[170,0.41],[171.1,0.83],[172.2,1.47],[172.8,1.54],[173.9,1.52],[175,0.62],[176.1,-0.45],[177.2,-1.3],[178.1,-1.99],[179.1,-2.26],[180.2,-1.94],[181.3,-1.52],[182.4,-1.26],[183.5,-1.3],[184.6,-1.3],[185.7,-0.88],[186.9,-0.36],[188,-0.02],[189.1,0.28],[190.2,0.41],[191.3,0.11],[192.4,-0.06],[193.5,-0.17],[194.6,-0.06],[195.6,0.02],[196.7,-0.19],[197.8,-0.28],[198.9,-0.36],[200,-0.66],[201.1,-1.3],[202.2,-1.94],[203.1,-2.29],[204.1,-2.16],[205.2,-1.52],[206.3,-0.24],[207.4,1.05],[208.5,1.77],[209.6,1.94],[210.7,1.84],[211.9,1.47],[213,1.15],[214.1,1.0],[215.2,0.88],[216.3,0.81],[217.4,0.81],[218.5,0.85],[219.6,0.53],[220.7,0.53],[221.9,0.71],[223,0.96],[224.1,1.18],[225,1.2],[225.9,0.79],[227,0.19],[228.1,-0.45],[229.3,-0.88],[230.4,-1.3],[231.5,-1.6],[232.6,-1.6],[233.7,-1.09],[234.8,-0.66],[235.9,-0.66],[237,-1.3],[238.1,-1.73],[239.1,-1.88],[240.2,-1.65],[241.3,-1.09],[242.4,-0.66],[243.5,-0.53],[244.6,-0.62],[245.7,-1.0],[246.9,-1.26],[248,-1.35],[249.1,-1.09],[250.2,-0.45],
  [251.8,0.45],[253.1,0.46],[254.6,0.49],[256.1,0.41],[257.4,0.36],[258.7,0.36],[259.8,0.19],[261.1,0.11],[262.4,-0.06],[263.5,-0.45],[264.6,-0.88],[265.7,-1.15],[266.8,-0.66],[267.9,-0.02],[269,1.05],[270,2.03],[270.9,2.07],[272,1.86],[273.1,1.39],[274.2,0.79],[275.2,0.53],[276.1,0.53],[277.2,0.83],[278.3,1.13],[279.6,1.35],[280.7,1.48],[281.8,1.26],[282.9,1.07],[284.1,1.15],[285.2,1.09],[286.3,0.79],[287.4,0.45],[288.5,-0.06],[289.6,-0.58],[290.7,-1.09],[291.8,-1.73],[292.9,-1.92],[294.1,-1.77],[295.2,-1.09],[296.3,-0.49],[297.4,-0.06],[298.5,0.24],[299.6,0.28],[300.7,0.24],[301.9,-0.11],[303,-0.36],[304.1,-0.53],[305.2,-0.64],[306.3,-0.62],[307.4,-0.58],[308.5,-0.32],[309.6,-0.06],[310.8,0.19],[311.9,0.36],[313,0.71],[314.1,0.96],[315.2,1.13],[316.3,1.05],[317.4,0.62],[318.5,0.19],[319.6,0.06],[320.8,0.19],[321.9,0.62],[323,0.96],[324.1,1.0],[325.2,0.62],[326.3,-0.24],[327.4,-0.88],[328,-1.18],[328.9,-1.0],[330,-0.24],[331.1,0.62],[332.2,1.47],[333.2,1.64],[334.3,1.65],[335.4,1.58],[336.5,1.5],[337.6,1.3],[338.7,1.3],[339.9,1.3],[341,1.05],[342.1,0.96],[343.2,0.92],[344.3,0.41],[345.4,-0.06],[346.5,0.02],[347.6,0.62],[348.7,1.13],[349.9,1.0],[351,0.41],[352.1,-0.24],[353.2,-0.66],[354.3,-1.0],[355.4,-1.09],[356.5,-1.0],[357.6,-0.66],[358.8,-0.32],[359.9,-0.02],[361,0.09],[362.1,0.11],[363.2,0.06],[364.3,-0.15],[365.4,-0.41],[366.5,-0.66],[367.7,-0.73],[368.8,-0.77],[369.9,-0.85],[371,-0.75],[372.1,-0.53],[373.2,-0.06],[374.4,0.41],[375.4,0.58],[376.6,0.68],[377.7,0.62],[378.8,0.19],[379.9,0.24],[381,0.28],[382.1,0.45],[383.2,0.79],[384.3,1.05],[385.4,1.15],[386.6,1.13],[387.7,0.41],[388.8,-0.88],[389.7,-1.09],[390.6,-0.66],[391.8,-0.02],[392.9,0.62],[394,0.92],[395.1,1.09],[396.2,1.15],[397.3,1.15],[398.4,1.11],[399.5,1.13],[400.6,1.3],[401.8,1.11],[402.9,1.47],[403.8,1.99],[404.7,1.86],[405.8,1.05],[406.9,0.68],[408.1,0.79],[409.2,1.13],[410.1,1.32],[411.2,0.62],[412.3,0.19],[413.4,-0.24],[414.5,-0.66],[415.6,-1.09],[416.8,-1.35],[417.9,-1.37],[419,-1.09],[420.1,-0.45],[421.2,0.06],[422.3,0.19],[423.4,0.24],[424.6,0.28],[425.7,0.02],[426.8,-0.45],[427.9,-0.68],[429,-0.71],[430.1,-0.75],[431.2,-0.66],[432.3,-0.58],[433.5,-0.41],[434.6,-0.15],[435.7,0.11],[436.8,0.41],[437.9,0.51],[439,0.49],[440.2,0.32],[441.3,0.15],[442.4,0.24],[443.5,0.41],[444.6,0.62],[445.7,0.77],[446.8,0.71],[448,0.19],[449,-0.66],[450.2,-1.52],[451.1,-1.65],[452.2,-1.09],[453.3,-0.24],[454.4,0.83],[455.6,1.47],[456.7,1.77],[457.8,1.84],[458.9,1.47],[460,0.79],[461.2,0.36],[462.3,0.49],[463.4,0.45],[464.5,0.53],[465.6,0.83],[466.7,0.68],[467.8,0.41],[468.9,0.62],[470,0.79],[471.2,0.92],[472.3,0.88],[473.3,0.62],[474.5,0.19],[475.6,-0.36],[476.7,-0.88],[477.8,-1.35],[478.9,-1.65],[480.1,-1.47],[481.2,-0.88],[482.3,-0.32],[483.4,0.11],[484.5,0.36],[485.5,0.47],[486.7,0.36],[487.8,0.06],[488.9,-0.24],[490,-0.58],[491.1,-0.88],[492.3,-1.13],[493.4,-1.18],[494.5,-1.0],[495.6,-0.58],[496.7,-0.15],[497.8,0.28],[498.9,0.66],[500,0.62],[501.1,0.56],[502.2,0.56],[503.3,0.41],[504.5,0.3],[505.6,0.19],[506.7,0.17],[507.8,0.17],[508.7,0.28],[509.6,-0.06],[511,-0.7],
];
const accRunRecon = [
  -0.2, -0.45, 0.5, 1.13, -0.25, 0.3, 0.7, -0.96,
  0.1, -0.4, 0.55, 1.3, -0.2, 0.4, 0.75, -0.7,
  0.0, -1.6, 0.4, 1.37, -0.3, 0.2, 0.65, -0.6,
  0.3, -0.4, 0.6, 1.61, -0.3, -0.1, 0.7, -0.94,
  0.4, -0.3, 0.45, 0.9, -0.2, 0.2, 0.65, -0.85,
  -0.1, -0.5, 0.5, 1.28, -0.25, 0.35, 0.7, -0.85,
  0.2, -0.45, 0.55, 1.35, -0.3, 0.0, 0.65, -0.79,
  0.35, -0.35, 0.5, 1.3, -0.2, 0.2, 0.7, -0.6,
  0.0, -0.5, 0.55, 1.39, -0.25, 0.4, 0.75, -0.7,
  0.25, -0.4, 0.45, 0.98, -0.3, -0.1, 0.6, -0.9,
  0.3, -0.35, 0.5, 1.03, -0.25, 0.2, 0.65, -0.99,
  -0.05, -0.5, 0.45, 0.9, -0.2, 0.4, 0.7, -1.05,
  0.2, -0.45, 0.55, 1.3, -0.3, 0.1, 0.65, -0.7,
  0.35, -0.35, 0.5, 1.24, -0.3, -0.05, 0.6, -0.68,
  0.1, -0.45, 0.5, 1.11, -0.2, 0.3, 0.7, -1.03,
  0.25, -0.4, 0.55, 1.23, -0.3, 0.0, 0.65, -1.0,
  0.3, -0.4, 0.55, 1.37, -0.25, 0.2, 0.7, -0.6,
  -0.1, -0.5, 0.55, 1.35, -0.2, 0.4, 0.75, -1.24,
  0.2, -0.4, 0.45, 1.0, -0.3, 0.1, 0.6, -1.09,
  0.35, -0.35, 0.6, 1.41, -0.25, 0.2, 0.7, -0.6,
  0.0, -0.5, 0.5, 1.1, -0.2, 0.35, 0.7, -1.07,
  0.25, -0.4, 0.45, 0.9, -0.3, -0.05, 0.6, -1.22,
  0.3, -0.4, 0.6, 1.44, -0.25, 0.2, 0.7, -0.73,
  0.1, -0.45, 0.55, 1.3, -0.2, 0.4, 0.75, -0.73,
  0.3, -0.4, 0.55, 1.3, -0.3, 0.05, 0.65, -0.7,
  -0.05, -0.5, 0.5, 1.28, -0.25, 0.35, 0.7, -0.6,
  0.2, -0.4, 0.45, 0.9, -0.3, 0.1, 0.6, -1.03,
  0.35, -0.35, 0.6, 1.42, -0.25, 0.2, 0.7, -0.7,
  0.1, -0.45, 0.6, 1.43, -0.2, 0.4, 0.75, -0.6,
  0.25, -0.4, 0.5, 1.24, -0.3, 0.0, 0.65, -0.8,
  0.3, -0.4, 0.55, 1.37, -0.25, 0.2, 0.7, -0.75,
  0.05, -0.5, 0.6, 1.51, -0.2, 0.35, 0.75, -0.77,
  0.25, -0.4, 0.6, 1.45, -0.3, 0.1, 0.65, -0.96,
  0.35, -0.35, 0.55, 1.35, -0.25, 0.2, 0.7, -0.75,
  0.0, -0.5, 0.45, 1.0, -0.2, 0.3, 0.65, -1.43,
  0.2, -0.4, 0.5, 1.1, -0.2, 0.4, 0.7, -0.69,
  0.3, -0.35, 0.45, 1.0, -0.3, 0.05, 0.6, -0.6,
  0.1, -0.45, 0.45, 0.9, -0.25, 0.35, 0.65, -0.71,
  0.25, -0.4, 0.45, 0.9, -0.3, 0.1, 0.6, -0.71,
  0.3, -0.4, 0.55, 1.35, -0.25, 0.2, 0.7, -0.73,
  0.05, -0.5, 0.5, 1.2, -0.2, 0.35, 0.7, -1.71,
  0.3, -0.35, 0.45, 0.9, -0.3, 0.1, 0.6, -0.6,
  0.2, -0.4, 0.45, 0.9, -0.2, 0.35, 0.65, -0.83,
  0.1, -0.45, 0.5, 1.15, -0.25, 0.2, 0.7, -1.18,
  0.35, -0.35, 0.5, 1.05, -0.3, 0.05, 0.6, -0.7,
  0.2, -0.4, 0.55, 1.2, -0.25, 0.3, 0.7, -0.68,
  0.1, -0.45, 0.4, 0.8, -0.2, 0.35, 0.65, -0.92,
  0.25, -0.4, 0.45, 0.9, -0.3, 0.0, 0.6, -0.6,
  0.3, -0.4, 0.55, 1.24, -0.25, 0.2, 0.7, -0.92,
  0.1, -0.45, 0.4, 0.8, -0.2, 0.35, 0.65, -0.92,
  0.25, -0.4, 0.5, 1.05, -0.3, 0.1, 0.6, -0.83,
  0.35, -0.35, 0.55, 1.2, -0.25, 0.2, 0.7, -0.6,
  0.05, -0.5, 0.5, 1.1, -0.2, 0.3, 0.65, -0.81,
  0.25, -0.4, 0.55, 1.21, -0.3, 0.1, 0.65, -0.7,
  0.3, -0.35, 0.5, 1.02, -0.2, 0.35, 0.7, -0.98,
  0.1, -0.45, 0.55, 1.21, -0.25, 0.2, 0.7, -0.7,
  0.3, -0.35, 0.45, 0.9, -0.3, 0.05, 0.6, -1.28,
  0.2, -0.45, 0.6, 1.39, -0.2, 0.35, 0.75, -0.98,
  0.1, -0.45, 0.5, 1.1, -0.25, 0.25, 0.65, -0.96,
  0.35, -0.35, 0.5, 1.1, -0.3, 0.1, 0.65, -0.8,
  0.2, -0.4, 0.4, 0.8, -0.2, 0.3, 0.6, -0.7,
  0.05, -0.5, 0.55, 1.3, -0.2, 0.35, 0.75, -0.6,
  0.3, -0.4, 0.55, 1.26, -0.3, 0.1, 0.65, -0.94,
  0.25, -0.45, 0.6, 1.42, -0.25, 0.3, 0.75, -0.9,
];
const accRunMasked = [8, 32, 40, 48, 96, 104, 112, 128, 144, 152, 184, 192, 200, 216, 224, 232, 240, 248, 256, 264, 296, 304, 312, 328, 336, 360, 368, 384, 400, 408, 416, 424, 440, 456, 480, 488, 496, 504];

type PanelSpec = {
  title: string;
  left: number;
  top: number;
  truth: [number, number][];
  recon: number[];
  masked: number[];
  yDomain: [number, number];
  yTicks: number[];
};

const panels: PanelSpec[] = [
  { title: "PPG_Walk (40% Masked Reconstruction) | MAE: 0.888", left: 194, top: 106, truth: ppgWalkTruth, recon: ppgWalkRecon, masked: ppgWalkMasked, yDomain: [-4.21, 4.97], yTicks: [-4, -2, 0, 2, 4] },
  { title: "ACC_Walk (40% Masked Reconstruction) | MAE: 0.833", left: 2422, top: 106, truth: accWalkTruth, recon: accWalkRecon, masked: accWalkMasked, yDomain: [-4.46, 2.99], yTicks: [-4, -3, -2, -1, 0, 1, 2] },
  { title: "PPG_Run (40% Masked Reconstruction) | MAE: 1.027", left: 194, top: 1585, truth: ppgRunTruth, recon: ppgRunRecon, masked: ppgRunMasked, yDomain: [-2.5, 2.49], yTicks: [-2, -1, 0, 1, 2] },
  { title: "ACC_Run (40% Masked Reconstruction) | MAE: 0.936", left: 2422, top: 1585, truth: accRunTruth, recon: accRunRecon, masked: accRunMasked, yDomain: [-3.49, 3.11], yTicks: [-3, -2, -1, 0, 1, 2, 3] },
];

const TRUTH_COLOR = "#000000";
const RECON_COLOR = "#e41a1c";
const RECON_DASH = "18.5 8";
const LINE_W = 5;

function fmtTick(v: number) {
  return v < 0 ? `\u2212${Math.abs(v)}` : `${v}`;
}

const tickStyle = { fill: "#000", fontSize: FS, fontFamily: FONT };

function Panel({ spec }: { spec: PanelSpec }) {
  const truth = spec.truth.map(([t, v]) => ({ t, v }));
  const recon = spec.recon.map((v, i) => ({ t: RECON_T[i], v }));
  return (
    <div style={{ position: "absolute", left: spec.left - 180, top: spec.top - 20 }}>
      <LineChart width={PLOT_W + 200} height={PLOT_H + 120} margin={{ top: 20, right: 20, bottom: 0, left: 0 }}>
        <CartesianGrid stroke="#b0b0b0" strokeOpacity={0.3} strokeWidth={3.3} />
        <XAxis
          dataKey="t"
          type="number"
          domain={X_DOMAIN}
          ticks={X_TICKS}
          allowDataOverflow
          interval={0}
          height={100}
          axisLine={false}
          tickLine={{ stroke: "#000", strokeWidth: 3.3 }}
          tickSize={14.6}
          tickMargin={14.6}
          tick={tickStyle}
        />
        <YAxis
          type="number"
          domain={spec.yDomain}
          ticks={spec.yTicks}
          allowDataOverflow
          interval={0}
          width={180}
          axisLine={false}
          tickLine={{ stroke: "#000", strokeWidth: 3.3 }}
          tickSize={14.6}
          tickMargin={14.6}
          tick={tickStyle}
          tickFormatter={fmtTick}
        />
        {spec.masked.map((s) => (
          <ReferenceArea
            key={s}
            x1={s}
            x2={s + PATCH_LEN}
            fill="#ffff00"
            fillOpacity={0.25}
            stroke="#ffff00"
            strokeOpacity={0.25}
            strokeWidth={4.2}
          />
        ))}
        <Line data={truth} dataKey="v" type="linear" stroke={TRUTH_COLOR} strokeWidth={LINE_W} dot={false} activeDot={false} isAnimationActive={false} />
        <Line data={recon} dataKey="v" type="linear" stroke={RECON_COLOR} strokeWidth={LINE_W} strokeDasharray={RECON_DASH} dot={false} activeDot={false} isAnimationActive={false} />
      </LineChart>
    </div>
  );
}

function Decorations({ spec }: { spec: PanelSpec }) {
  const L = spec.left;
  const T = spec.top;
  const cx = L + PLOT_W / 2;
  const ylx = L - 117;
  const yly = T + PLOT_H / 2;
  const lgW = 663;
  const lgH = 137;
  const lgX = L + PLOT_W - 20.8 - lgW;
  const lgY = T + 22;
  const row1 = lgY + 34;
  const row2 = lgY + 97;
  return (
    <g fontFamily={FONT} fill="#000">
      <rect x={L} y={T} width={PLOT_W} height={PLOT_H} fill="none" stroke="#000" strokeWidth={3.3} />
      <text x={cx} y={T - 25} textAnchor="middle" fontSize={TITLE_FS} fontWeight="bold">{spec.title}</text>
      <text x={cx} y={T + PLOT_H + 126} textAnchor="middle" fontSize={FS}>Timesteps (64 Hz, 8s total)</text>
      <text x={ylx} y={yly} textAnchor="middle" fontSize={FS} transform={`rotate(-90 ${ylx} ${yly})`}>Normalized Signal</text>
      <rect x={lgX} y={lgY} width={lgW} height={lgH} rx={8} fill="#ffffff" fillOpacity={0.8} stroke="#cccccc" strokeWidth={3.3} />
      <line x1={lgX + 16} x2={lgX + 102} y1={row1} y2={row1} stroke={TRUTH_COLOR} strokeWidth={LINE_W} />
      <line x1={lgX + 16} x2={lgX + 102} y1={row2} y2={row2} stroke={RECON_COLOR} strokeWidth={LINE_W} strokeDasharray={RECON_DASH} />
      <text x={lgX + 136} y={row1 + 15} fontSize={FS}>Ground Truth</text>
      <text x={lgX + 136} y={row2 + 15} fontSize={FS}>MOMENT Reconstruction</text>
    </g>
  );
}

export default function App() {
  // the browser viewport can be narrower than 4500 px; map the figure onto it
  const hasWin = typeof window !== "undefined";
  const sx = hasWin ? Math.min(1, window.innerWidth / FIG_W) : 1;
  const sy = hasWin ? Math.min(1, window.innerHeight / FIG_H) : 1;
  return (
    <div style={{ position: "absolute", left: 0, top: 0, width: FIG_W * sx, height: FIG_H * sy, overflow: "hidden", background: "#ffffff" }}>
      <div style={{ position: "absolute", left: 0, top: 0, width: FIG_W, height: FIG_H, transform: `scale(${sx}, ${sy})`, transformOrigin: "0 0" }}>
        {panels.map((p) => (
          <Panel key={p.title} spec={p} />
        ))}
        <svg width={FIG_W} height={FIG_H} style={{ position: "absolute", left: 0, top: 0, pointerEvents: "none" }}>
          {panels.map((p) => (
            <Decorations key={p.title} spec={p} />
          ))}
        </svg>
      </div>
    </div>
  );
}
